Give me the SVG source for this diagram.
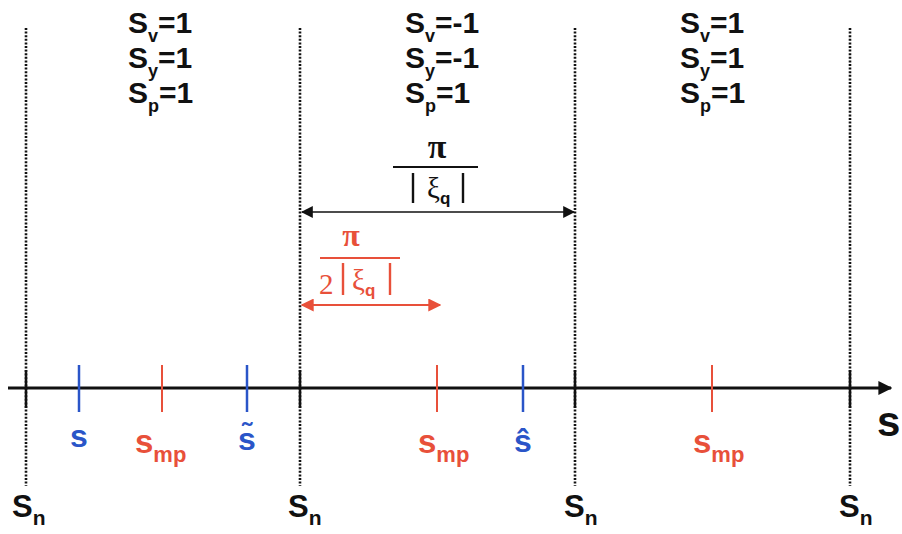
<svg xmlns="http://www.w3.org/2000/svg" width="902" height="534" viewBox="0 0 902 534">
<style>
.t{font-family:"Liberation Sans",Arial,sans-serif;font-weight:bold;fill:#111}
.sub{font-size:18px}
.big{font-size:30px}
.m{font-family:"Liberation Serif","Times New Roman",serif;}
.dot{stroke:#111;stroke-width:2.6;stroke-dasharray:2 1.6;fill:none}
.tk{stroke:#111;stroke-width:2.5}
.bl{stroke:#2a55c8;stroke-width:2.5}
.rd{stroke:#e8503a;stroke-width:2}
.blt{fill:#2a55c8}
.rdt{fill:#e8503a}
</style>
<defs>
<marker id="ab" viewBox="0 0 10 10" refX="9" refY="5" markerWidth="12" markerHeight="12" markerUnits="userSpaceOnUse" orient="auto-start-reverse"><path d="M0,0 L10,5 L0,10 z" fill="#111"/></marker>
<marker id="ar" viewBox="0 0 10 10" refX="9" refY="5" markerWidth="13" markerHeight="13" markerUnits="userSpaceOnUse" orient="auto-start-reverse"><path d="M0,0 L10,5 L0,10 z" fill="#e8503a"/></marker>
<marker id="ax" viewBox="0 0 10 10" refX="9" refY="5" markerWidth="14" markerHeight="14" markerUnits="userSpaceOnUse" orient="auto"><path d="M0,0 L10,5 L0,10 z" fill="#111"/></marker>
</defs>
<rect width="902" height="534" fill="#fff"/>
<g id="gridlines">
<line class="dot" x1="26" y1="28" x2="26" y2="486"/>
<line class="dot" x1="300" y1="28" x2="300" y2="486"/>
<line class="dot" x1="575" y1="28" x2="575" y2="486"/>
<line class="dot" x1="850" y1="28" x2="850" y2="486"/>
</g>
<g id="connectors">
<line x1="8" y1="388" x2="891" y2="388" stroke="#111" stroke-width="3" marker-end="url(#ax)"/>
<line x1="302" y1="212" x2="574" y2="212" stroke="#111" stroke-width="1.6" marker-start="url(#ab)" marker-end="url(#ab)"/>
<line x1="302" y1="305" x2="440" y2="305" stroke="#e8503a" stroke-width="1.8" marker-start="url(#ar)" marker-end="url(#ar)"/>
</g>
<g id="ticks">
<line class="tk" x1="26" y1="370" x2="26" y2="408"/>
<line class="tk" x1="300" y1="370" x2="300" y2="408"/>
<line class="tk" x1="575" y1="370" x2="575" y2="408"/>
<line class="tk" x1="850" y1="370" x2="850" y2="408"/>
<line class="bl" x1="79" y1="365" x2="79" y2="412"/>
<line class="bl" x1="247" y1="365" x2="247" y2="412"/>
<line class="bl" x1="523" y1="365" x2="523" y2="412"/>
<line class="rd" x1="162" y1="365" x2="162" y2="412"/>
<line class="rd" x1="437" y1="365" x2="437" y2="412"/>
<line class="rd" x1="712" y1="365" x2="712" y2="412"/>
</g>
<g id="region-1" class="t big">
<text x="128" y="33">S<tspan class="sub" dy="9">v</tspan><tspan dy="-9">=1</tspan></text>
<text x="128" y="68">S<tspan class="sub" dy="9">y</tspan><tspan dy="-9">=1</tspan></text>
<text x="128" y="103">S<tspan class="sub" dy="9">p</tspan><tspan dy="-9">=1</tspan></text>
</g>
<g id="region-2" class="t big">
<text x="405" y="33">S<tspan class="sub" dy="9">v</tspan><tspan dy="-9">=-1</tspan></text>
<text x="405" y="68">S<tspan class="sub" dy="9">y</tspan><tspan dy="-9">=-1</tspan></text>
<text x="405" y="103">S<tspan class="sub" dy="9">p</tspan><tspan dy="-9">=1</tspan></text>
</g>
<g id="region-3" class="t big">
<text x="680" y="33">S<tspan class="sub" dy="9">v</tspan><tspan dy="-9">=1</tspan></text>
<text x="680" y="68">S<tspan class="sub" dy="9">y</tspan><tspan dy="-9">=1</tspan></text>
<text x="680" y="103">S<tspan class="sub" dy="9">p</tspan><tspan dy="-9">=1</tspan></text>
</g>
<g id="period-label">
<text class="m" x="437" y="158" font-size="34" font-weight="bold" text-anchor="middle" fill="#111">π</text>
<line x1="393" y1="167" x2="478" y2="167" stroke="#111" stroke-width="2.2"/>
<line x1="413" y1="173" x2="413" y2="203" stroke="#111" stroke-width="2.4"/>
<line x1="463" y1="173" x2="463" y2="203" stroke="#111" stroke-width="2.4"/>
<text class="m" x="427" y="198" font-size="29" fill="#111">ξ<tspan font-family="Liberation Sans,Arial,sans-serif" font-weight="bold" font-size="17" dy="6">q</tspan></text>
</g>
<g id="half-period-label">
<text class="m" x="351" y="246" font-size="32" font-weight="bold" text-anchor="middle" fill="#e8503a">π</text>
<line x1="320" y1="258" x2="400" y2="258" stroke="#e8503a" stroke-width="2.2"/>
<text class="m" x="319" y="294" font-size="29" fill="#e8503a">2</text>
<line x1="343" y1="263" x2="343" y2="295" stroke="#e8503a" stroke-width="2.4"/>
<line x1="390" y1="263" x2="390" y2="295" stroke="#e8503a" stroke-width="2.4"/>
<text class="m" x="352" y="290" font-size="29" fill="#e8503a">ξ<tspan font-family="Liberation Sans,Arial,sans-serif" font-weight="bold" font-size="17" dy="6">q</tspan></text>
</g>
<g id="labels-blue" class="t">
<text class="blt" x="79" y="447" font-size="32" text-anchor="middle">s</text>
<text class="blt" x="247" y="450" font-size="32" text-anchor="middle">s̃</text>
<text class="blt" x="523" y="452" font-size="32" text-anchor="middle">ŝ</text>
</g>
<g id="labels-red" class="t">
<text class="rdt" x="135" y="453" font-size="33">s<tspan font-size="22" dy="9">mp</tspan></text>
<text class="rdt" x="418" y="453" font-size="33">s<tspan font-size="22" dy="9">mp</tspan></text>
<text class="rdt" x="693" y="453" font-size="33">s<tspan font-size="22" dy="9">mp</tspan></text>
</g>
<g id="labels-sn" class="t">
<text x="12" y="517" font-size="31">S<tspan font-size="21" dy="8">n</tspan></text>
<text x="288" y="517" font-size="31">S<tspan font-size="21" dy="8">n</tspan></text>
<text x="564" y="517" font-size="31">S<tspan font-size="21" dy="8">n</tspan></text>
<text x="839" y="517" font-size="31">S<tspan font-size="21" dy="8">n</tspan></text>
</g>
<g id="axis-label" class="t">
<text x="877" y="436" font-size="42">s</text>
</g>
</svg>
